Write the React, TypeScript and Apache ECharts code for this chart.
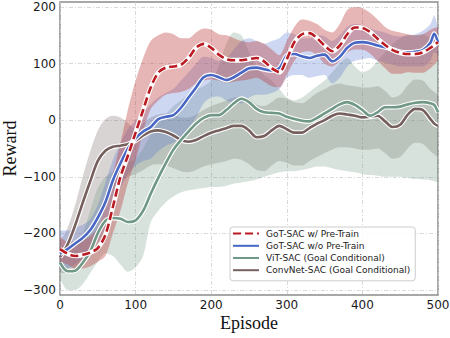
import React, { useEffect, useRef } from "react";
import * as echarts from "echarts";

const EPISODES = [0, 10, 20, 30, 40, 50, 60, 70, 80, 90, 100, 110, 120, 130, 140, 150, 160, 170, 180, 190, 200, 210, 220, 230, 240, 250, 260, 270, 280, 290, 300, 310, 320, 330, 340, 350, 360, 370, 380, 390, 400, 410, 420, 430, 440, 450, 460, 470, 480, 490, 495, 500];

const redMean = [-228, -236, -240, -238, -234, -226, -203, -153, -100, -62, -22, 18, 58, 84, 93, 95, 98, 110, 128, 135, 128, 116, 108, 106, 106, 108, 110, 104, 92, 85, 108, 138, 152, 154, 145, 132, 122, 132, 152, 164, 163, 156, 144, 133, 124, 119, 117, 117, 120, 128, 133, 138];
const redUpper = [-205, -215, -215, -212, -205, -190, -150, -95, -40, 20, 70, 110, 140, 150, 155, 152, 145, 145, 155, 162, 160, 152, 150, 145, 140, 138, 140, 135, 125, 115, 140, 165, 178, 176, 170, 160, 155, 170, 195, 200, 198, 190, 178, 165, 158, 155, 152, 150, 152, 160, 163, 165];
const redLower = [-250, -255, -262, -262, -258, -250, -240, -200, -160, -110, -70, -20, 20, 35, 45, 48, 50, 55, 65, 70, 72, 70, 66, 68, 70, 72, 75, 68, 60, 58, 80, 105, 120, 122, 115, 100, 95, 105, 120, 125, 125, 118, 105, 92, 82, 82, 85, 84, 84, 92, 98, 105];

const blueMean = [-236, -228, -218, -208, -194, -172, -145, -106, -76, -50, -32, -20, -12, 2, 6, 9, 22, 40, 58, 76, 80, 76, 71, 76, 84, 92, 93, 90, 88, 92, 114, 117, 113, 110, 114, 116, 104, 112, 128, 137, 138, 136, 132, 129, 125, 121, 120, 121, 124, 137, 153, 138];
const blueUpper = [-195, -195, -190, -185, -175, -150, -110, -70, -40, -15, 0, 15, 28, 40, 48, 55, 70, 85, 100, 112, 110, 105, 110, 125, 140, 145, 140, 135, 140, 145, 155, 152, 145, 145, 150, 148, 140, 150, 165, 170, 168, 162, 158, 155, 150, 148, 150, 152, 158, 170, 185, 160];
const blueLower = [-265, -262, -255, -245, -230, -215, -190, -150, -120, -95, -80, -72, -68, -55, -45, -40, -30, -15, 5, 30, 40, 42, 35, 30, 30, 40, 45, 45, 48, 55, 75, 80, 80, 75, 78, 80, 65, 75, 95, 105, 108, 110, 105, 102, 98, 95, 95, 95, 95, 105, 120, 115];

const greenMean = [-252, -267, -266, -252, -232, -200, -178, -173, -174, -180, -177, -160, -130, -102, -76, -52, -35, -20, -6, 4, 9, 9, 18, 30, 38, 32, 20, 14, 13, 12, 6, 2, -1, -2, 4, 12, 20, 28, 32, 27, 18, 8, 14, 23, 23, 24, 28, 31, 32, 30, 27, 14];
const greenUpper = [-225, -230, -225, -200, -160, -120, -100, -90, -80, -75, -68, -50, -25, -5, 10, 25, 35, 45, 55, 60, 70, 95, 135, 155, 150, 120, 95, 80, 70, 55, 40, 35, 40, 50, 60, 70, 85, 100, 110, 95, 85, 90, 105, 120, 135, 145, 150, 150, 152, 145, 142, 140];
const greenLower = [-280, -300, -300, -290, -270, -250, -235, -240, -255, -268, -260, -240, -180, -160, -145, -135, -128, -124, -122, -120, -118, -118, -116, -112, -110, -108, -105, -100, -96, -92, -90, -90, -88, -85, -82, -82, -85, -88, -90, -92, -95, -97, -98, -100, -100, -100, -102, -104, -105, -106, -108, -110];

const brownMean = [-242, -220, -186, -146, -108, -72, -54, -47, -45, -42, -36, -27, -20, -18, -21, -27, -35, -38, -35, -28, -22, -18, -14, -10, -10, -18, -30, -28, -18, -10, -16, -22, -22, -14, -6, 0, 8, 12, 10, 8, 5, 6, 8, -2, -12, -8, 10, 20, 18, 2, -6, -10];
const brownUpper = [-215, -190, -150, -100, -55, -18, 2, 8, 5, -5, -15, -5, 5, 10, 12, 10, 5, 5, 10, 18, 25, 30, 35, 40, 42, 38, 28, 25, 32, 40, 38, 32, 30, 38, 48, 55, 62, 65, 62, 60, 58, 58, 60, 52, 40, 45, 62, 72, 70, 55, 50, 45];
const brownLower = [-270, -270, -262, -245, -225, -190, -150, -120, -108, -100, -95, -88, -80, -78, -80, -85, -90, -92, -88, -82, -78, -75, -72, -68, -70, -78, -88, -90, -80, -72, -75, -80, -80, -72, -65, -58, -52, -48, -48, -50, -52, -52, -50, -58, -68, -65, -50, -40, -42, -55, -60, -65];

const Y_TICKS = [-300, -200, -100, 0, 100, 200];
const NAMES = [
  "GoT-SAC w/ Pre-Train",
  "GoT-SAC w/o Pre-Train",
  "ViT-SAC (Goal Conditional)",
  "ConvNet-SAC (Goal Conditional)",
];

const pairs = (arr: number[]) => EPISODES.map((e, i) => [e, arr[i]]);

// band series: data items are [value, episode] so the stacked dimension is the y value
function band(id: string, upper: number[], lower: number[], color: string) {
  return [
    {
      name: id + "-lo",
      type: "line",
      stack: id,
      stackStrategy: "all",
      encode: { x: 1, y: 0 },
      data: EPISODES.map((e, i) => [lower[i], e]),
      symbol: "none",
      smooth: 0.3,
      lineStyle: { opacity: 0 },
      silent: true,
      z: 1,
    },
    {
      name: id + "-hi",
      type: "line",
      stack: id,
      stackStrategy: "all",
      encode: { x: 1, y: 0 },
      data: EPISODES.map((e, i) => [upper[i] - lower[i], e]),
      symbol: "none",
      smooth: 0.3,
      lineStyle: { opacity: 0 },
      areaStyle: { color, opacity: 1 },
      silent: true,
      z: 1,
    },
  ];
}

function line(name: string, arr: number[], color: string, dashed: boolean) {
  return [
    {
      name: name + "-outline",
      type: "line",
      data: pairs(arr),
      symbol: "none",
      smooth: 0.3,
      lineStyle: { color: "#ffffff", width: 4.8 },
      silent: true,
      z: 2,
    },
    {
      name,
      type: "line",
      data: pairs(arr),
      symbol: "none",
      smooth: 0.3,
      lineStyle: { color, width: 2.6, type: dashed ? [8, 4] : "solid" },
      itemStyle: { color, opacity: 0 },
      silent: true,
      z: 2,
    },
  ];
}

const fmt = (v: number) => String(v).replace("-", "\u2212");

export default function App() {
  const ref = useRef<HTMLDivElement>(null);
  useEffect(() => {
    if (!ref.current) return;
    const chart = echarts.init(ref.current, null, { renderer: "svg" });
    chart.setOption({
      animation: false,
      backgroundColor: "#ffffff",
      grid: {
        left: 60,
        right: 12,
        top: 2,
        bottom: 43,
        show: true,
        borderColor: "#8c8c8c",
        borderWidth: 1.5,
        outerBoundsMode: "none",
      },
      xAxis: {
        type: "value",
        min: 0,
        max: 500,
        interval: 100,
        name: "Episode",
        nameLocation: "middle",
        nameGap: 19,
        nameMoveOverlap: false,
        nameTextStyle: { fontFamily: "Liberation Serif", fontSize: 18, color: "#111" },
        axisLine: { show: false },
        axisTick: { show: false },
        axisLabel: {
          fontFamily: "DejaVu Sans",
          fontSize: 12,
          color: "#1a1a1a",
          margin: 4,
          formatter: fmt,
        },
        splitLine: { show: true, lineStyle: { color: "#cfcfcf", width: 0.8, type: [4, 2, 1, 2] } },
      },
      yAxis: {
        type: "value",
        min: -309,
        max: 209,
        name: "Reward",
        nameLocation: "middle",
        nameGap: 41,
        nameRotate: 90,
        nameMoveOverlap: false,
        nameTextStyle: { fontFamily: "Liberation Serif", fontSize: 18, color: "#111" },
        axisLine: { show: false },
        axisTick: { show: false, customValues: Y_TICKS },
        axisLabel: {
          fontFamily: "DejaVu Sans",
          fontSize: 12,
          color: "#1a1a1a",
          margin: 4,
          customValues: Y_TICKS,
          formatter: fmt,
        },
        splitLine: { show: true, lineStyle: { color: "#cfcfcf", width: 0.8, type: [4, 2, 1, 2] } },
      },
      legend: {
        show: true,
        orient: "vertical",
        left: 230,
        top: 227,
        data: NAMES,
        itemWidth: 26,
        itemHeight: 14,
        itemGap: 1,
        padding: [1, 5, 5, 2],
        backgroundColor: "rgba(255,255,255,0.85)",
        borderColor: "#cccccc",
        borderWidth: 1,
        borderRadius: 3,
        itemStyle: { opacity: 0 },
        textStyle: { fontFamily: "DejaVu Sans", fontSize: 9, color: "#222", padding: [0, 0, 0, 2] },
        selectedMode: false,
        z: 10,
      },
      series: [
        ...band("brownBand", brownUpper, brownLower, "rgba(120,100,100,0.28)"),
        ...band("greenBand", greenUpper, greenLower, "rgba(110,150,130,0.28)"),
        ...band("blueBand", blueUpper, blueLower, "rgba(80,110,210,0.28)"),
        ...band("redBand", redUpper, redLower, "rgba(190,60,60,0.38)"),
        ...line(NAMES[3], brownMean, "#75605e", false),
        ...line(NAMES[2], greenMean, "#6f9886", false),
        ...line(NAMES[1], blueMean, "#4866c4", false),
        ...line(NAMES[0], redMean, "#bb1a22", true),
      ],
    });
    return () => chart.dispose();
  }, []);
  return <div ref={ref} style={{ position: "fixed", left: 0, top: 0, width: 450, height: 338 }} />;
}
